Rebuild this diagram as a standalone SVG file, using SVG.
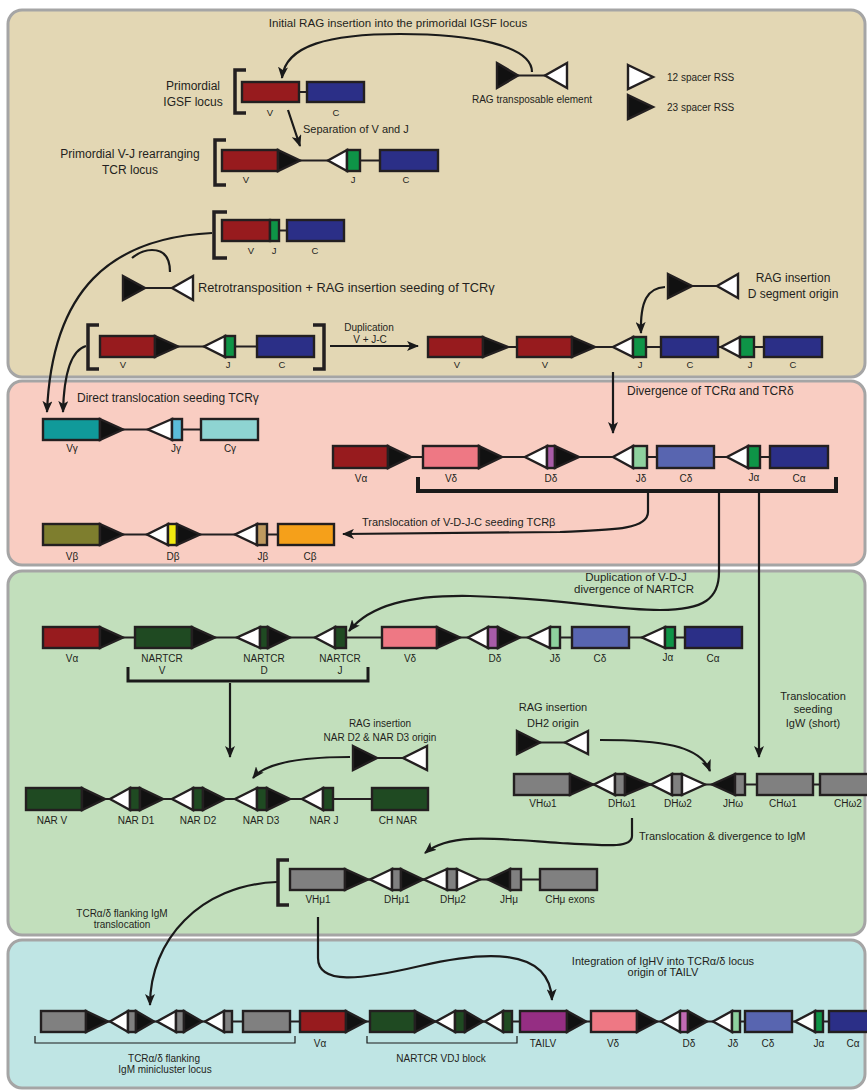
<svg xmlns="http://www.w3.org/2000/svg" width="867" height="1090" viewBox="0 0 867 1090">
<defs>
<marker id="ah" viewBox="0 0 12 10" refX="11" refY="5" markerWidth="12" markerHeight="10" markerUnits="userSpaceOnUse" orient="auto"><path d="M0,0 L12,5 L0,10 L3,5 z" fill="#1a1a1a"/></marker>
<style>
.pnl{stroke:#A5A5A5;stroke-width:3}
.s{stroke:#231F20;stroke-width:2.4;stroke-linejoin:miter}
.k{fill:#111}
.w{fill:#fff}
.bb{stroke:#231F20;stroke-width:2;fill:none}
.br{stroke:#231F20;stroke-width:3.5;fill:none}
.c{stroke:#1a1a1a;stroke-width:2.2;fill:none;marker-end:url(#ah)}
.cn{stroke:#1a1a1a;stroke-width:2.2;fill:none}
text{font-family:"Liberation Sans",Arial,sans-serif;fill:#231F20}
.t12{font-size:12px}.t11{font-size:11px}.t10{font-size:10px}.t9{font-size:9.5px}
.m{text-anchor:middle}
.red{fill:#971B1E}.blu{fill:#2B2F87}.grn{fill:#0E9447}.tea{fill:#109A9A}.ltb{fill:#5BBCD9}.cyg{fill:#8ED4D2}
.pnk{fill:#EE7884}.pur{fill:#A85CA8}.ljd{fill:#8ED19E}.cdl{fill:#5865B0}.olv{fill:#7E7E2E}.yel{fill:#F1E80F}.tan{fill:#BF9A5F}.org{fill:#F5A01A}
.dg{fill:#1F4A22}.gry{fill:#808080}.tai{fill:#952E83}.dd2{fill:#C16AB5}
</style>
</defs>
<g id="panels">
<rect class="pnl" x="8" y="10" width="857" height="367" rx="14" fill="#E3D7B4"/>
<rect class="pnl" x="8" y="381" width="857" height="184" rx="14" fill="#F9CDC2"/>
<rect class="pnl" x="8" y="571" width="857" height="364" rx="14" fill="#C2DFBC"/>
<rect class="pnl" x="8" y="940" width="857" height="148" rx="14" fill="#BFE5E4"/>
</g>
<g id="connectors">
<path class="c" d="M532,72 C532,45 470,34 400,34 C330,34 285,45 282,78"/>
<path class="c" d="M288,110 L300,146"/>
<path class="c" d="M212,233 C110,238 52,290 47,412"/>
<path class="cn" d="M170,272 C170,258 165,250 152,250 C145,250 138,253 132,258"/>
<path class="c" d="M86,346 C72,350 64,370 63,412"/>
<path class="c" d="M330,346 L418,346"/>
<path class="c" d="M665,287 C648,288 640,300 641,333"/>
<path class="c" d="M613,372 L613,433"/>
<path class="c" d="M648,491 L648,512 C648,530 610,530 560,532 L343,534"/>
<path class="c" d="M719,491 L719,572 C719,598 705,610 660,610 C610,610 560,598 470,596 C410,595 370,605 349,631"/>
<path class="c" d="M759,491 L759,757"/>
<path class="c" d="M230,683 L230,757"/>
<path class="c" d="M350,757 C300,757 265,763 253,778"/>
<path class="c" d="M600,740 C660,740 700,745 710,771"/>
<path class="c" d="M632,818 L632,836 C632,848 610,846 560,843 C500,839 450,832 425,853"/>
<path class="c" d="M277,882 C200,885 150,940 150,1005"/>
<path class="c" d="M318,917 L318,958 C318,985 360,980 420,966 C480,952 550,945 552,1000"/>
</g>
<g id="igsf">
<path class="br" d="M246,70 L235,70 L235,113 L246,113"/>
<line class="bb" x1="242" y1="92" x2="364" y2="92"/>
<rect class="s red" x="242" y="82" width="57" height="20"/>
<rect class="s blu" x="307" y="82" width="57" height="20"/>
<text class="t9 m" x="270" y="116">V</text><text class="t9 m" x="336" y="116">C</text>
<text class="t12 m" x="193" y="90">Primordial</text><text class="t12 m" x="193" y="106">IGSF locus</text>
</g>
<g id="rag-element">
<line class="bb" x1="518" y1="75.5" x2="545" y2="75.5"/>
<polygon class="s k" points="497,63 518,75.5 497,88"/>
<polygon class="s w" points="567,63 545,75.5 567,88"/>
<text class="t10 m" x="532" y="103">RAG transposable element</text>
</g>
<g id="legend">
<polygon class="s w" points="628,65 653,77 628,89"/>
<polygon class="s k" points="628,95 653,107 628,119"/>
<text class="t10" x="667" y="81">12 spacer RSS</text>
<text class="t10" x="667" y="111">23 spacer RSS</text>
</g>
<g id="primordial-vj">
<path class="br" d="M226,140 L215,140 L215,185 L226,185"/>
<line class="bb" x1="222" y1="160.5" x2="438" y2="160.5"/>
<rect class="s red" x="222" y="150" width="56" height="21"/>
<polygon class="s k" points="278,150 300,160.5 278,171"/>
<polygon class="s w" points="347,150 328,160.5 347,171"/>
<rect class="s grn" x="347" y="150" width="13" height="21"/>
<rect class="s blu" x="380" y="150" width="58" height="21"/>
<text class="t9 m" x="246" y="183">V</text><text class="t9 m" x="353" y="183">J</text><text class="t9 m" x="406" y="183">C</text>
<text class="t12 m" x="130" y="158">Primordial V-J rearranging</text><text class="t12 m" x="130" y="174">TCR locus</text>
</g>
<g id="vjc">
<path class="br" d="M227,212 L214,212 L214,258 L227,258"/>
<line class="bb" x1="222" y1="230.5" x2="344" y2="230.5"/>
<rect class="s red" x="222" y="220" width="48" height="21"/>
<rect class="s grn" x="270" y="220" width="9" height="21"/>
<rect class="s blu" x="287" y="220" width="57" height="21"/>
<text class="t9 m" x="251" y="254">V</text><text class="t9 m" x="274" y="254">J</text><text class="t9 m" x="315" y="254">C</text>
</g>
<g id="retro-element">
<line class="bb" x1="145" y1="288" x2="172" y2="288"/>
<polygon class="s k" points="123,276 145,288 123,300"/>
<polygon class="s w" points="193,276 172,288 193,300"/>
<text style="font-size:12.8px" x="198" y="292">Retrotransposition + RAG insertion seeding of TCRγ</text>
</g>
<g id="tcr-left">
<path class="br" d="M99,325 L88,325 L88,369 L99,369"/>
<path class="br" d="M313,325 L324,325 L324,369 L313,369"/>
<line class="bb" x1="100" y1="346.5" x2="314" y2="346.5"/>
<rect class="s red" x="100" y="336" width="55" height="21"/>
<polygon class="s k" points="155,336 178,346.5 155,357"/>
<polygon class="s w" points="225,336 204,346.5 225,357"/>
<rect class="s grn" x="225" y="336" width="10" height="21"/>
<rect class="s blu" x="257" y="336" width="57" height="21"/>
<text class="t9 m" x="123" y="368">V</text><text class="t9 m" x="228" y="368">J</text><text class="t9 m" x="282" y="368">C</text>
<text class="t10 m" x="369" y="331">Duplication</text><text class="t10 m" x="370" y="343">V + J-C</text>
</g>
<g id="tcr-dup">
<line class="bb" x1="428" y1="347" x2="822" y2="347"/>
<rect class="s red" x="428" y="337" width="55" height="20"/>
<polygon class="s k" points="483,337 508,347 483,357"/>
<rect class="s red" x="517" y="337" width="55" height="20"/>
<polygon class="s k" points="572,337 595,347 572,357"/>
<polygon class="s w" points="633,337 613,347 633,357"/>
<rect class="s grn" x="633" y="337" width="13" height="20"/>
<rect class="s blu" x="661" y="337" width="57" height="20"/>
<polygon class="s w" points="740,337 721,347 740,357"/>
<rect class="s grn" x="740" y="337" width="14" height="20"/>
<rect class="s blu" x="764" y="337" width="58" height="20"/>
<text class="t9 m" x="457" y="368">V</text><text class="t9 m" x="545" y="368">V</text><text class="t9 m" x="640" y="368">J</text><text class="t9 m" x="690" y="368">C</text><text class="t9 m" x="750" y="368">J</text><text class="t9 m" x="793" y="368">C</text>
</g>
<g id="rag-d-origin">
<line class="bb" x1="692" y1="286" x2="717" y2="286"/>
<polygon class="s k" points="668,274 692,286 668,298"/>
<polygon class="s w" points="738,274 717,286 738,298"/>
<text class="t12 m" x="793" y="282">RAG insertion</text><text class="t12 m" x="793" y="298">D segment origin</text>
</g>
<g id="labels-top">
<text class="m" style="font-size:11.6px" x="398" y="27">Initial RAG insertion into the primoridal IGSF locus</text>
<text class="t11" x="303" y="133">Separation of V and J</text>
</g>
<g id="tcr-gamma">
<text class="t12" x="77" y="402">Direct translocation seeding TCRγ</text>
<line class="bb" x1="43" y1="429.5" x2="258" y2="429.5"/>
<rect class="s tea" x="43" y="419" width="57" height="21"/>
<polygon class="s k" points="100,419 123,429.5 100,440"/>
<polygon class="s w" points="172,419 148,429.5 172,440"/>
<rect class="s ltb" x="172" y="419" width="10" height="21"/>
<rect class="s cyg" x="201" y="419" width="57" height="21"/>
<text class="t10 m" x="72" y="452">Vγ</text><text class="t10 m" x="176" y="452">Jγ</text><text class="t10 m" x="230" y="452">Cγ</text>
</g>
<g id="tcr-ad">
<text class="t12" x="627" y="395">Divergence of TCRα and TCRδ</text>
<line class="bb" x1="333" y1="457" x2="828" y2="457"/>
<rect class="s red" x="333" y="446" width="55" height="22"/>
<polygon class="s k" points="388,446 411,457 388,468"/>
<rect class="s pnk" x="423" y="446" width="56" height="22"/>
<polygon class="s k" points="479,446 502,457 479,468"/>
<polygon class="s w" points="547,446 525,457 547,468"/>
<rect class="s pur" x="547" y="446" width="8" height="22"/>
<polygon class="s k" points="555,446 579,457 555,468"/>
<polygon class="s w" points="633,446 613,457 633,468"/>
<rect class="s ljd" x="633" y="446" width="14" height="22"/>
<rect class="s cdl" x="657" y="446" width="57" height="22"/>
<polygon class="s w" points="748,446 727,457 748,468"/>
<rect class="s grn" x="748" y="446" width="12" height="22"/>
<rect class="s blu" x="770" y="446" width="58" height="22"/>
<text class="t10 m" x="361" y="482">Vα</text><text class="t10 m" x="451" y="482">Vδ</text><text class="t10 m" x="551" y="482">Dδ</text><text class="t10 m" x="641" y="482">Jδ</text><text class="t10 m" x="686" y="482">Cδ</text><text class="t10 m" x="754" y="481">Jα</text><text class="t10 m" x="799" y="482">Cα</text>
<path class="cn" style="stroke-width:4" d="M418,477 L418,491 L836,491 L836,477"/>
<text class="t11" x="362" y="526">Translocation of V-D-J-C seeding TCRβ</text>
</g>
<g id="tcr-beta">
<line class="bb" x1="43" y1="534.5" x2="334" y2="534.5"/>
<rect class="s olv" x="43" y="524" width="57" height="21"/>
<polygon class="s k" points="100,524 123,534.5 100,545"/>
<polygon class="s w" points="168,524 147,534.5 168,545"/>
<rect class="s yel" x="168" y="524" width="9" height="21"/>
<polygon class="s k" points="177,524 200,534.5 177,545"/>
<polygon class="s w" points="257,524 235,534.5 257,545"/>
<rect class="s tan" x="257" y="524" width="10" height="21"/>
<rect class="s org" x="278" y="524" width="56" height="21"/>
<text class="t10 m" x="72" y="560">Vβ</text><text class="t10 m" x="173" y="560">Dβ</text><text class="t10 m" x="263" y="560">Jβ</text><text class="t10 m" x="310" y="560">Cβ</text>
</g>
<g id="nartcr-locus">
<text class="m" style="font-size:11.5px" x="636" y="581">Duplication of V-D-J</text><text class="m" style="font-size:11.5px" x="634" y="593">divergence of NARTCR</text>
<line class="bb" x1="43" y1="637.5" x2="742" y2="637.5"/>
<rect class="s red" x="43" y="627" width="57" height="21"/>
<polygon class="s k" points="100,627 123,637.5 100,648"/>
<rect class="s dg" x="135" y="627" width="57" height="21"/>
<polygon class="s k" points="192,627 215,637.5 192,648"/>
<polygon class="s w" points="260,627 237,637.5 260,648"/>
<rect class="s dg" x="260" y="627" width="8" height="21"/>
<polygon class="s k" points="268,627 290,637.5 268,648"/>
<polygon class="s w" points="335,627 315,637.5 335,648"/>
<rect class="s dg" x="335" y="627" width="11" height="21"/>
<rect class="s pnk" x="382" y="627" width="55" height="21"/>
<polygon class="s k" points="437,627 460,637.5 437,648"/>
<polygon class="s w" points="488,627 468,637.5 488,648"/>
<rect class="s pur" x="488" y="627" width="10" height="21"/>
<polygon class="s k" points="498,627 520,637.5 498,648"/>
<polygon class="s w" points="550,627 528,637.5 550,648"/>
<rect class="s ljd" x="550" y="627" width="10" height="21"/>
<rect class="s cdl" x="572" y="627" width="57" height="21"/>
<polygon class="s w" points="665,627 642,637.5 665,648"/>
<rect class="s grn" x="665" y="627" width="10" height="21"/>
<rect class="s blu" x="685" y="627" width="57" height="21"/>
<text class="t10 m" x="72" y="662">Vα</text>
<text class="t10 m" x="162" y="662">NARTCR</text><text class="t10 m" x="162" y="674">V</text>
<text class="t10 m" x="264" y="662">NARTCR</text><text class="t10 m" x="264" y="674">D</text>
<text class="t10 m" x="340" y="662">NARTCR</text><text class="t10 m" x="340" y="674">J</text>
<text class="t10 m" x="410" y="662">Vδ</text><text class="t10 m" x="495" y="662">Dδ</text><text class="t10 m" x="555" y="662">Jδ</text><text class="t10 m" x="600" y="662">Cδ</text><text class="t10 m" x="668" y="661">Jα</text><text class="t10 m" x="713" y="662">Cα</text>
<path class="cn" style="stroke-width:3" d="M128,667 L128,681 L368,681 L368,667"/>
</g>
<g id="igw-label">
<text class="t11 m" x="813" y="700">Translocation</text><text class="t11 m" x="813" y="713">seeding</text><text class="t11 m" x="813" y="727">IgW (short)</text>
</g>
<g id="rag-dh2">
<text class="t11 m" x="553" y="711">RAG insertion</text><text class="t11 m" x="553" y="727">DH2 origin</text>
<line class="bb" x1="540" y1="742.5" x2="565" y2="742.5"/>
<polygon class="s k" points="517,731 540,742.5 517,754"/>
<polygon class="s w" points="588,731 565,742.5 588,754"/>
</g>
<g id="rag-nar">
<text class="t10 m" x="380" y="727">RAG insertion</text><text class="t10 m" x="380" y="741">NAR D2 &amp; NAR D3 origin</text>
<line class="bb" x1="377" y1="758" x2="403" y2="758"/>
<polygon class="s k" points="353,746 377,758 353,770"/>
<polygon class="s w" points="427,746 403,758 427,770"/>
</g>
<g id="nar-locus">
<line class="bb" x1="26" y1="799" x2="428" y2="799"/>
<rect class="s dg" x="26" y="788" width="56" height="22"/>
<polygon class="s k" points="82,788 105,799 82,810"/>
<polygon class="s w" points="130,788 110,799 130,810"/>
<rect class="s dg" x="130" y="788" width="10" height="22"/>
<polygon class="s k" points="140,788 163,799 140,810"/>
<polygon class="s w" points="193,788 172,799 193,810"/>
<rect class="s dg" x="193" y="788" width="10" height="22"/>
<polygon class="s k" points="203,788 225,799 203,810"/>
<polygon class="s w" points="257,788 235,799 257,810"/>
<rect class="s dg" x="257" y="788" width="10" height="22"/>
<polygon class="s k" points="267,788 290,799 267,810"/>
<polygon class="s w" points="323,788 302,799 323,810"/>
<rect class="s dg" x="323" y="788" width="10" height="22"/>
<rect class="s dg" x="372" y="788" width="56" height="22"/>
<text class="t10 m" x="52" y="824">NAR V</text><text class="t10 m" x="136" y="824">NAR D1</text><text class="t10 m" x="198" y="824">NAR D2</text><text class="t10 m" x="261" y="824">NAR D3</text><text class="t10 m" x="324" y="824">NAR J</text><text class="t10 m" x="398" y="824">CH NAR</text>
</g>
<g id="igw-locus">
<line class="bb" x1="514" y1="784.5" x2="870" y2="784.5"/>
<rect class="s gry" x="514" y="774" width="56" height="21"/>
<polygon class="s k" points="570,774 593,784.5 570,795"/>
<polygon class="s w" points="615,774 594,784.5 615,795"/>
<rect class="s gry" x="615" y="774" width="10" height="21"/>
<polygon class="s k" points="625,774 650,784.5 625,795"/>
<polygon class="s w" points="672,774 651,784.5 672,795"/>
<rect class="s gry" x="672" y="774" width="10" height="21"/>
<polygon class="s w" points="682,774 705,784.5 682,795"/>
<polygon class="s k" points="735,774 712,784.5 735,795"/>
<rect class="s gry" x="735" y="774" width="10" height="21"/>
<rect class="s gry" x="757" y="774" width="56" height="21"/>
<rect class="s gry" x="820" y="774" width="60" height="21"/>
<text class="t10 m" x="543" y="807">VHω1</text><text class="t10 m" x="622" y="807">DHω1</text><text class="t10 m" x="678" y="807">DHω2</text><text class="t10 m" x="733" y="807">JHω</text><text class="t10 m" x="783" y="807">CHω1</text><text class="t10 m" x="848" y="807">CHω2</text>
<text class="t11" x="639" y="840">Translocation &amp; divergence to IgM</text>
</g>
<g id="igm-locus">
<path class="br" d="M289,860 L278,860 L278,905 L289,905"/>
<line class="bb" x1="290" y1="879.5" x2="597" y2="879.5"/>
<rect class="s gry" x="290" y="869" width="55" height="21"/>
<polygon class="s k" points="345,869 368,879.5 345,890"/>
<polygon class="s w" points="392,869 370,879.5 392,890"/>
<rect class="s gry" x="392" y="869" width="9" height="21"/>
<polygon class="s k" points="401,869 423,879.5 401,890"/>
<polygon class="s w" points="447,869 424,879.5 447,890"/>
<rect class="s gry" x="447" y="869" width="10" height="21"/>
<polygon class="s w" points="457,869 480,879.5 457,890"/>
<polygon class="s k" points="510,869 488,879.5 510,890"/>
<rect class="s gry" x="510" y="869" width="11" height="21"/>
<rect class="s gry" x="540" y="869" width="57" height="21"/>
<text class="t10 m" x="318" y="903">VHμ1</text><text class="t10 m" x="397" y="903">DHμ1</text><text class="t10 m" x="453" y="903">DHμ2</text><text class="t10 m" x="509" y="903">JHμ</text><text class="t10 m" x="570" y="903">CHμ exons</text>
<text class="t10 m" x="122" y="917">TCRα/δ flanking IgM</text><text class="t10 m" x="122" y="928">translocation</text>
</g>
<g id="final-locus">
<text class="t11 m" x="663" y="965">Integration of IgHV into TCRα/δ locus</text><text class="t11 m" x="663" y="976">origin of TAILV</text>
<line class="bb" x1="41" y1="1021.5" x2="870" y2="1021.5"/>
<rect class="s gry" x="41" y="1011" width="45" height="21"/>
<polygon class="s k" points="86,1011 108,1021.5 86,1032"/>
<polygon class="s w" points="128,1011 110,1021.5 128,1032"/>
<rect class="s gry" x="128" y="1011" width="8" height="21"/>
<polygon class="s k" points="136,1011 154,1021.5 136,1032"/>
<polygon class="s w" points="176,1011 157,1021.5 176,1032"/>
<rect class="s gry" x="176" y="1011" width="8" height="21"/>
<polygon class="s k" points="184,1011 202,1021.5 184,1032"/>
<polygon class="s w" points="224,1011 205,1021.5 224,1032"/>
<rect class="s gry" x="224" y="1011" width="8" height="21"/>
<rect class="s gry" x="243" y="1011" width="47" height="21"/>
<rect class="s red" x="300" y="1011" width="46" height="21"/>
<polygon class="s k" points="346,1011 366,1021.5 346,1032"/>
<rect class="s dg" x="370" y="1011" width="45" height="21"/>
<polygon class="s k" points="415,1011 435,1021.5 415,1032"/>
<polygon class="s w" points="455,1011 436,1021.5 455,1032"/>
<rect class="s dg" x="455" y="1011" width="10" height="21"/>
<polygon class="s k" points="465,1011 483,1021.5 465,1032"/>
<polygon class="s w" points="503,1011 485,1021.5 503,1032"/>
<rect class="s dg" x="503" y="1011" width="9" height="21"/>
<rect class="s tai" x="520" y="1011" width="47" height="21"/>
<polygon class="s k" points="567,1011 586,1021.5 567,1032"/>
<rect class="s pnk" x="591" y="1011" width="46" height="21"/>
<polygon class="s k" points="637,1011 657,1021.5 637,1032"/>
<polygon class="s w" points="680,1011 661,1021.5 680,1032"/>
<rect class="s dd2" x="680" y="1011" width="8" height="21"/>
<polygon class="s k" points="688,1011 707,1021.5 688,1032"/>
<polygon class="s w" points="732,1011 713,1021.5 732,1032"/>
<rect class="s ljd" x="732" y="1011" width="8" height="21"/>
<rect class="s cdl" x="745" y="1011" width="47" height="21"/>
<polygon class="s w" points="815,1011 795,1021.5 815,1032"/>
<rect class="s grn" x="815" y="1011" width="8" height="21"/>
<rect class="s blu" x="829" y="1011" width="51" height="21"/>
<text class="t10 m" x="320" y="1047">Vα</text><text class="t10 m" x="543" y="1047">TAILV</text><text class="t10 m" x="613" y="1047">Vδ</text><text class="t10 m" x="689" y="1047">Dδ</text><text class="t10 m" x="733" y="1047">Jδ</text><text class="t10 m" x="768" y="1047">Cδ</text><text class="t10 m" x="819" y="1047">Jα</text><text class="t10 m" x="853" y="1047">Cα</text>
<path class="cn" style="stroke-width:1.2" d="M35,1036 L35,1043 L295,1043 L295,1036"/>
<path class="cn" style="stroke-width:1.2" d="M367,1036 L367,1043 L517,1043 L517,1036"/>
<text class="t10 m" x="164" y="1062">TCRα/δ flanking</text><text class="t10 m" x="165" y="1073">IgM minicluster locus</text>
<text class="t10 m" x="441" y="1062">NARTCR VDJ block</text>
</g>
</svg>
